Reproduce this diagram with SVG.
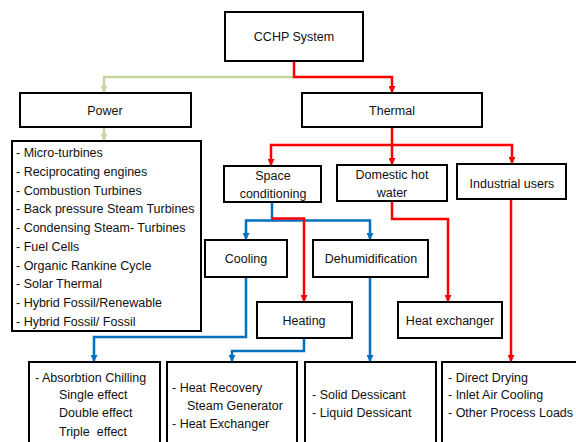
<svg xmlns="http://www.w3.org/2000/svg" width="576" height="442" viewBox="0 0 576 442">
<defs>
<style>
.box{fill:#fff;stroke:#000;stroke-width:2}
.t{font-family:"Liberation Sans",Arial,sans-serif;font-size:12.5px;fill:#111}
.c{text-anchor:middle}
.red{fill:none;stroke:#ff0000;stroke-width:2.5;marker-end:url(#ar)}
.blue{fill:none;stroke:#0070c0;stroke-width:2.5;marker-end:url(#ab)}
.green{fill:none;stroke:#c3d69b;stroke-width:2.5;marker-end:url(#ag)}
.pre{white-space:pre}
</style>
<marker id="ar" markerUnits="userSpaceOnUse" viewBox="0 0 10 10" refX="10" refY="5" markerWidth="7" markerHeight="7" orient="auto"><path d="M0,0L10,5L0,10z" fill="#ff0000"/></marker>
<marker id="ab" markerUnits="userSpaceOnUse" viewBox="0 0 10 10" refX="10" refY="5" markerWidth="7" markerHeight="7" orient="auto"><path d="M0,0L10,5L0,10z" fill="#0070c0"/></marker>
<marker id="ag" markerUnits="userSpaceOnUse" viewBox="0 0 10 10" refX="10" refY="5" markerWidth="7" markerHeight="7" orient="auto"><path d="M0,0L10,5L0,10z" fill="#c3d69b"/></marker>
</defs>
<rect width="576" height="442" fill="#fff"/>
<g id="connectors">
<path class="green" d="M294,77H104V93"/>
<path class="red" d="M294,61V77H392V93"/>
<path class="green" d="M104,127V141"/>
<path class="red" d="M392,127V145H271V166"/>
<path class="red" d="M392,145V165"/>
<path class="red" d="M392,145H512V164"/>
<path class="blue" d="M272,202V220.5H246V240"/>
<path class="blue" d="M272,220.5H370V240"/>
<path class="red" d="M272,218.5H304V302"/>
<path class="red" d="M392,201V219H448V302"/>
<path class="red" d="M511,199V362"/>
<path class="blue" d="M246,277V337H94V362"/>
<path class="blue" d="M304,338V351H232V362"/>
<path class="blue" d="M370,277V362"/>
</g>
<g id="cchp"><rect class="box" x="225" y="12" width="138" height="49"/><text class="t c" x="294" y="40.5">CCHP System</text></g>
<g id="power"><rect class="box" x="20" y="93" width="171" height="34"/><text class="t c" x="105" y="114.5">Power</text></g>
<g id="thermal"><rect class="box" x="302" y="93" width="180" height="34"/><text class="t c" x="392" y="114.5">Thermal</text></g>
<g id="power-list"><rect class="box" x="12" y="141" width="189" height="190"/>
<text class="t" x="16" y="157">- Micro-turbines</text>
<text class="t" x="16" y="175.75">- Reciprocating engines</text>
<text class="t" x="16" y="194.5">- Combustion Turbines</text>
<text class="t" x="16" y="213.25">- Back pressure Steam Turbines</text>
<text class="t" x="16" y="232">- Condensing Steam- Turbines</text>
<text class="t" x="16" y="250.75">- Fuel Cells</text>
<text class="t" x="16" y="269.5">- Organic Rankine Cycle</text>
<text class="t" x="16" y="288.25">- Solar Thermal</text>
<text class="t" x="16" y="307">- Hybrid Fossil/Renewable</text>
<text class="t" x="16" y="325.75">- Hybrid Fossil/ Fossil</text>
</g>
<g id="space"><rect class="box" x="224" y="166" width="97" height="36"/><text class="t c" x="273" y="179.5">Space</text><text class="t c" x="273" y="197.5">conditioning</text></g>
<g id="domestic"><rect class="box" x="337" y="165" width="110" height="36"/><text class="t c" x="392" y="178.5">Domestic hot</text><text class="t c" x="392" y="196.5">water</text></g>
<g id="industrial"><rect class="box" x="457" y="164" width="109" height="35"/><text class="t c" x="512" y="187.5">Industrial users</text></g>
<g id="cooling"><rect class="box" x="205" y="240" width="82" height="37"/><text class="t c" x="246" y="263">Cooling</text></g>
<g id="dehum"><rect class="box" x="313" y="240" width="115" height="37"/><text class="t c" x="371" y="263">Dehumidification</text></g>
<g id="heating"><rect class="box" x="257" y="302" width="95" height="36"/><text class="t c" x="304" y="325">Heating</text></g>
<g id="hex"><rect class="box" x="398" y="302" width="104" height="36"/><text class="t c" x="450" y="325">Heat exchanger</text></g>
<g id="cooling-list"><rect class="box" x="29" y="362" width="131" height="90"/>
<text class="t" x="35" y="381.5">- Absorbtion Chilling</text>
<text class="t" x="59" y="399">Single effect</text>
<text class="t" x="59" y="417">Double effect</text>
<text class="t pre" x="59" y="435.5">Triple  effect</text>
</g>
<g id="heating-list"><rect class="box" x="167" y="362" width="130" height="90"/>
<text class="t" x="172" y="391.5">- Heat Recovery</text>
<text class="t" x="187" y="409.5">Steam Generator</text>
<text class="t" x="172" y="427.5">- Heat Exchanger</text>
</g>
<g id="dehum-list"><rect class="box" x="305" y="362" width="131" height="90"/>
<text class="t" x="312" y="399">- Solid Dessicant</text>
<text class="t" x="312" y="417">- Liquid Dessicant</text>
</g>
<g id="industrial-list"><rect class="box" x="442" y="362" width="140" height="90"/>
<text class="t" x="448" y="381.5">- Direct Drying</text>
<text class="t" x="448" y="399">- Inlet Air Cooling</text>
<text class="t" x="448" y="417">- Other Process Loads</text>
</g>
</svg>
